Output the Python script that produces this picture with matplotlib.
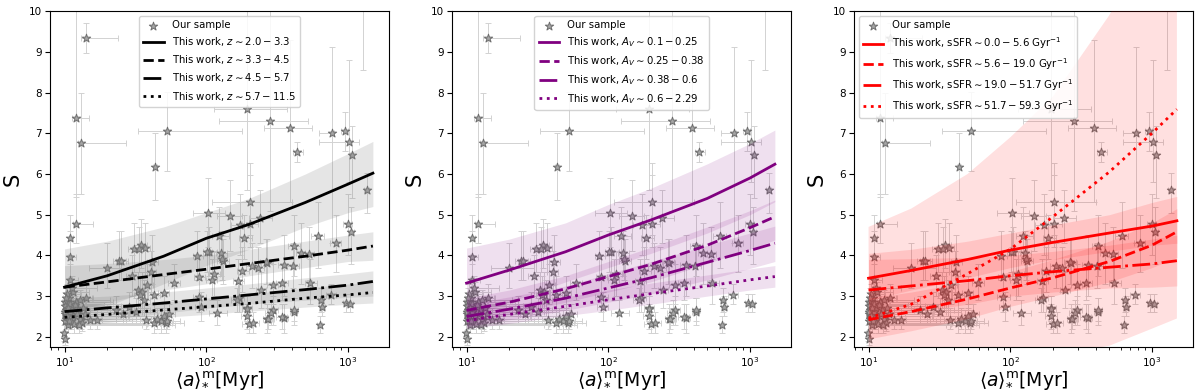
import matplotlib
matplotlib.use('Agg')
import matplotlib.pyplot as plt
import numpy as np

# ---- sample points (same in all three panels) ----
age = [14.1, 12.1, 13.0, 43.5, 53.2, 195, 282, 391, 437, 767, 957, 1021, 1062, 1355, 1271,
       12.0, 11.0, 11.0, 11.0, 103, 147, 204, 173, 204, 240, 185, 123, 611, 995, 1049, 822,
       417, 465, 533, 355, 541, 86.7, 105, 128, 132, 89.6, 109, 113, 180, 209, 232, 268, 168,
       243, 294, 270, 355, 413, 195, 195, 200, 215, 630, 646, 652, 759, 968, 1037, 120, 169,
       91.4, 89, 342, 294, 407, 262, 129, 164, 285, 342, 415, 273, 193, 102,
       20.0, 24.2, 25, 30.9, 34.4, 36.7, 33.5, 41.7, 30.1, 40.5, 38.4, 33, 35.4, 34, 36.3,
       42.8, 50.4, 59.2, 51.8, 47.6, 42.8, 50.4, 37.4, 28.4, 31.7, 22.9, 17.0, 14.1, 15.1,
       13, 55, 45, 53, 26,
       9.9, 10.0, 10.0, 10.1, 10.2, 10.0, 10.3, 10.1, 10.5, 10.8, 11.0, 11.2, 10.9, 11.4,
       11.1, 11.6, 12.0, 12.4, 12.2, 12.8, 13.2, 10.4, 11.5, 10.2, 10.6, 11.8, 10.0, 10.4,
       12.6, 14.0, 13.5, 11.3, 10.7, 12.9]
s_val = [9.33, 7.37, 6.76, 6.18, 7.05, 7.60, 7.31, 7.12, 6.54, 7.00, 7.06, 6.79, 6.47, 5.61, 10.6,
         4.77, 4.42, 3.97, 3.40, 5.05, 4.97, 5.32, 4.75, 4.77, 4.91, 4.42, 4.48, 4.48, 4.77, 4.58,
         4.30, 4.23, 4.05, 4.03, 3.77, 3.33, 3.99, 4.09, 4.07, 3.87, 3.48, 3.40, 3.55, 3.62, 3.73,
         3.69, 3.81, 3.37, 3.15, 2.66, 2.43, 2.46, 2.62, 2.70, 2.50, 2.32, 2.35, 2.30, 2.91, 2.74,
         3.03, 2.83, 2.81, 2.58, 2.95, 2.74, 2.99, 3.33, 3.28, 3.74, 3.85, 3.91, 2.91, 2.58, 2.48,
         2.66, 2.43, 2.68, 4.08,
         3.70, 3.86, 3.86, 4.16, 4.26, 4.18, 4.15, 3.83, 3.50, 3.60, 3.28, 3.15, 3.11, 3.03, 2.91,
         3.03, 3.07, 3.32, 2.34, 2.38, 2.34, 2.50, 2.42, 2.74, 2.62, 2.66, 2.42, 2.95, 2.42,
         2.42, 2.55, 2.45, 2.40, 2.55,
         2.09, 1.94, 2.85, 2.75, 2.65, 2.55, 2.45, 2.38, 2.30, 2.95, 2.80, 2.70, 2.60, 2.50,
         2.40, 2.32, 2.85, 2.65, 2.55, 2.45, 2.35, 3.05, 3.10, 2.95, 2.70, 2.78, 2.62, 2.52,
         2.30, 2.55, 2.70, 3.20, 2.40, 2.90]
age_lo = [13.0, 11.3, 12.5, 42, 33, 113, 123, 256, 410, 627, 900, 627, 1040, 1300, 1200,
          11.5, 10.8, 10.5, 10.6, 80, 120, 110, 150, 180, 200, 170, 110, 550, 930, 1000, 750,
          380, 430, 500, 320, 500, 80, 95, 118, 120, 82, 100, 103, 165, 190, 210, 245, 155,
          225, 270, 250, 330, 390, 180, 175, 180, 195, 600, 610, 620, 700, 920, 990, 105, 155,
          83, 80, 310, 270, 370, 240, 120, 150, 260, 310, 390, 250, 180, 95,
          15, 22, 23, 28, 31, 33, 30, 38, 27, 37, 35, 30, 32, 31, 33,
          39, 46, 54, 47, 43, 39, 46, 34, 26, 29, 21, 15.5, 13, 14,
          12, 50, 41, 48, 24,
          9.6, 9.7, 9.6, 9.7, 9.8, 9.6, 9.9, 9.7, 10.0, 10.3, 10.5, 10.7, 10.4, 10.9,
          10.6, 11.0, 11.4, 11.8, 11.6, 12.0, 12.5, 10.0, 11.0, 9.8, 10.1, 11.2, 9.6, 10.0,
          12.0, 13.2, 12.8, 10.8, 10.2, 12.2]
age_hi = [24, 15.0, 27, 45, 178, 371, 526, 562, 482, 800, 1000, 1203, 1085, 1400, 1340,
          16.0, 11.5, 12, 12.5, 135, 180, 402, 200, 230, 290, 210, 145, 680, 1060, 1100, 900,
          460, 500, 580, 400, 600, 95, 120, 140, 145, 98, 120, 125, 200, 230, 255, 295, 185,
          265, 320, 290, 380, 440, 210, 215, 220, 235, 660, 680, 690, 820, 1010, 1080, 140, 185,
          100, 100, 380, 320, 450, 290, 140, 180, 310, 370, 445, 300, 210, 110,
          30, 27, 28, 34, 38, 40, 37, 46, 33, 44, 42, 36, 39, 37, 40,
          47, 55, 65, 57, 52, 47, 55, 41, 31, 35, 25, 18.5, 15.5, 16.5,
          14, 60, 49, 58, 28,
          10.3, 10.3, 14, 25, 40, 18, 55, 30, 60, 16, 35, 20, 45, 28,
          65, 38, 22, 50, 32, 42, 70, 13, 15, 12, 26, 19, 33, 48,
          35, 24, 30, 17, 27, 21]
s_lo = [8.98, 5.44, 5.52, 5.36, 6.08, 5.6, 5.1, 5.3, 6.29, 4.3, 6.57, 5.81, 5.4, 5.05, 8.55,
        4.3, 3.8, 3.4, 2.9, 4.2, 4.1, 4.5, 4.0, 4.2, 4.3, 3.9, 3.9, 3.7, 4.0, 3.8,
        3.6, 3.5, 3.3, 3.4, 3.0, 2.8, 3.4, 3.5, 3.5, 3.3, 3.0, 2.9, 3.0, 3.1, 3.2,
        3.1, 3.3, 2.9, 2.7, 2.3, 2.1, 2.1, 2.3, 2.4, 2.2, 2.1, 2.1, 2.1, 2.6, 2.5,
        2.8, 2.6, 2.6, 2.3, 2.6, 2.4, 2.6, 2.9, 2.8, 3.2, 3.3, 3.4, 2.6, 2.3, 2.2,
        2.4, 2.2, 2.4, 3.6,
        3.2, 3.4, 3.4, 3.6, 3.7, 3.6, 3.6, 3.3, 3.0, 3.1, 2.8, 2.7, 2.7, 2.6, 2.5,
        2.6, 2.7, 2.9, 2.1, 2.1, 2.1, 2.2, 2.2, 2.4, 2.3, 2.3, 2.2, 2.6, 2.2,
        2.2, 2.3, 2.2, 2.2, 2.3,
        1.9, 1.8, 2.6, 2.5, 2.4, 2.3, 2.2, 2.15, 2.1, 2.7, 2.55, 2.45, 2.35, 2.25,
        2.2, 2.1, 2.6, 2.4, 2.3, 2.2, 2.15, 2.8, 2.85, 2.7, 2.45, 2.55, 2.4, 2.3,
        2.1, 2.3, 2.45, 2.9, 2.2, 2.65]
s_hi = [9.70, 10.5, 7.99, 7.01, 8.02, 10.5, 10.5, 9.29, 6.79, 9.12, 7.53, 8.80, 7.18, 6.03, 11.0,
        5.5, 5.0, 4.6, 4.0, 5.9, 5.85, 6.26, 5.5, 5.97, 5.6, 5.0, 5.2, 5.3, 5.5, 5.2,
        5.0, 5.0, 4.8, 4.7, 4.5, 3.9, 4.6, 4.7, 4.6, 4.4, 4.0, 3.9, 4.1, 4.2, 4.3,
        4.2, 4.4, 3.9, 3.6, 3.0, 2.8, 2.8, 2.95, 3.0, 2.8, 2.6, 2.6, 2.5, 3.2, 3.0,
        3.3, 3.05, 3.05, 2.9, 3.3, 3.1, 3.4, 3.8, 3.8, 4.3, 4.4, 4.5, 3.2, 2.9, 2.8,
        2.95, 2.7, 3.0, 4.6,
        4.3, 4.6, 4.6, 4.8, 4.9, 4.8, 4.7, 4.5, 4.0, 4.1, 3.8, 3.6, 3.6, 3.5, 3.4,
        3.5, 3.5, 3.8, 2.6, 2.65, 2.6, 2.8, 2.7, 3.1, 2.95, 3.0, 2.7, 3.3, 2.7,
        2.7, 2.8, 2.7, 2.65, 2.8,
        2.3, 2.1, 3.1, 3.0, 2.9, 2.8, 2.7, 2.6, 2.5, 3.2, 3.05, 2.95, 2.85, 2.75,
        2.6, 2.55, 3.1, 2.9, 2.8, 2.7, 2.55, 3.3, 3.35, 3.2, 2.95, 3.0, 2.85, 2.75,
        2.5, 2.8, 2.95, 3.5, 2.6, 3.15]

# ---- fit curves, at these ages ----
fit_age = [10, 20, 50, 100, 200, 500, 1000, 1500]

z_labels = [r'This work, $z\sim2.0-3.3$', r'This work, $z\sim3.3-4.5$',
            r'This work, $z\sim4.5-5.7$', r'This work, $z\sim5.7-11.5$']
z_fit = [[3.22, 3.50, 3.98, 4.42, 4.76, 5.30, 5.75, 6.02],
         [3.22, 3.35, 3.53, 3.66, 3.80, 3.98, 4.13, 4.23],
         [2.62, 2.71, 2.83, 2.93, 3.03, 3.16, 3.27, 3.36],
         [2.48, 2.55, 2.66, 2.74, 2.82, 2.95, 3.03, 3.09]]
z_lo = [[2.40, 2.75, 3.30, 3.75, 4.15, 4.70, 5.05, 5.20],
        [2.55, 2.85, 3.15, 3.30, 3.50, 3.70, 3.85, 3.88],
        [2.30, 2.42, 2.58, 2.70, 2.80, 2.90, 2.97, 3.00],
        [2.25, 2.35, 2.48, 2.55, 2.63, 2.73, 2.80, 2.83]]
z_hi = [[4.16, 4.35, 4.70, 5.05, 5.40, 6.00, 6.50, 6.80],
        [3.75, 3.80, 3.90, 4.00, 4.15, 4.35, 4.50, 4.58],
        [2.95, 3.00, 3.10, 3.20, 3.30, 3.45, 3.55, 3.62],
        [2.70, 2.76, 2.86, 2.95, 3.05, 3.20, 3.30, 3.35]]

av_labels = [r'This work, $A_V\sim0.1-0.25$', r'This work, $A_V\sim0.25-0.38$',
             r'This work, $A_V\sim0.38-0.6$', r'This work, $A_V\sim0.6-2.29$']
av_fit = [[3.32, 3.64, 4.09, 4.50, 4.87, 5.40, 5.90, 6.24],
          [2.65, 2.85, 3.18, 3.48, 3.78, 4.25, 4.68, 4.95],
          [2.50, 2.68, 2.95, 3.20, 3.45, 3.83, 4.12, 4.30],
          [2.40, 2.55, 2.75, 2.91, 3.06, 3.25, 3.40, 3.48]]
av_lo = [[2.45, 2.85, 3.35, 3.70, 4.05, 4.55, 5.00, 5.32],
         [2.35, 2.55, 2.85, 3.10, 3.35, 3.80, 4.15, 4.38],
         [2.25, 2.42, 2.65, 2.85, 3.05, 3.40, 3.68, 3.85],
         [2.20, 2.33, 2.52, 2.65, 2.80, 3.00, 3.15, 3.22]]
av_hi = [[4.18, 4.40, 4.80, 5.25, 5.65, 6.25, 6.75, 7.08],
         [2.95, 3.15, 3.50, 3.85, 4.20, 4.70, 5.10, 5.36],
         [2.80, 2.98, 3.25, 3.55, 3.85, 4.25, 4.55, 4.72],
         [2.65, 2.78, 2.98, 3.15, 3.32, 3.52, 3.67, 3.75]]

ssfr_labels = [r'This work, sSFR$\sim0.0-5.6$ Gyr$^{-1}$', r'This work, sSFR$\sim5.6-19.0$ Gyr$^{-1}$',
               r'This work, sSFR$\sim19.0-51.7$ Gyr$^{-1}$', r'This work, sSFR$\sim51.7-59.3$ Gyr$^{-1}$']
ssfr_fit = [[3.44, 3.63, 3.90, 4.13, 4.32, 4.55, 4.72, 4.85],
            [2.42, 2.62, 2.93, 3.20, 3.45, 3.85, 4.25, 4.58],
            [3.15, 3.25, 3.38, 3.50, 3.60, 3.71, 3.79, 3.87],
            [2.46, 2.80, 3.55, 4.15, 4.95, 6.05, 7.00, 7.59]]
ssfr_lo = [[2.90, 3.15, 3.45, 3.70, 3.90, 4.10, 4.25, 4.30],
           [1.95, 2.15, 2.45, 2.75, 3.00, 3.35, 3.70, 3.95],
           [2.45, 2.60, 2.80, 3.00, 3.10, 3.20, 3.22, 3.25],
           [1.60, 1.55, 1.50, 1.50, 1.55, 1.78, 2.20, 2.45]]
ssfr_hi = [[4.05, 4.15, 4.35, 4.55, 4.75, 5.00, 5.30, 5.45],
           [2.95, 3.10, 3.35, 3.60, 3.90, 4.35, 4.80, 5.15],
           [3.90, 3.92, 3.95, 4.00, 4.10, 4.25, 4.40, 4.50],
           [4.70, 5.15, 6.00, 6.90, 7.90, 9.90, 11.8, 13.0]]

styles = ['-', '--', '-.', ':']

fig = plt.figure(figsize=(12, 3.91), dpi=100)
lefts = [0.0417, 0.3767, 0.7117]
panels = [
    (z_fit, z_lo, z_hi, z_labels, 'black', 'gray', 0.2, 'upper center'),
    (av_fit, av_lo, av_hi, av_labels, 'purple', 'purple', 0.12, 'upper center'),
    (ssfr_fit, ssfr_lo, ssfr_hi, ssfr_labels, 'red', 'red', 0.12, 'upper left'),
]

x = np.array(age)
y = np.array(s_val)
xerr = [x - np.array(age_lo), np.array(age_hi) - x]
yerr = [y - np.array(s_lo), np.array(s_hi) - y]

for left, (fits, los, his, labels, lc, bc, balpha, loc) in zip(lefts, panels):
    ax = fig.add_axes([left, 0.1125, 0.2825, 0.859])
    ax.errorbar(x, y, xerr=xerr, yerr=yerr, fmt='none', ecolor='#d2d2d2',
                elinewidth=0.7, capsize=2.5, capthick=0.7, zorder=1)
    ax.scatter(x, y, marker='*', s=40, facecolor='#a6a6a6', edgecolor='#6e6e6e',
               linewidth=0.7, zorder=2, label='Our sample')
    for fit, lo, hi, lab, ls in zip(fits, los, his, labels, styles):
        ax.fill_between(fit_age, lo, hi, color=bc, alpha=balpha, linewidth=0, zorder=3)
        ax.plot(fit_age, fit, ls, color=lc, lw=2, label=lab, zorder=4)
    ax.set_xscale('log')
    ax.set_xlim(7.9, 1950)
    ax.set_ylim(1.75, 10)
    ax.set_yticks(range(2, 11))
    ax.tick_params(labelsize=7.5, pad=2.5)
    ax.set_xlabel(r'$\langle a\rangle^{\rm m}_{*}$[Myr]', fontsize=13.5, labelpad=0)
    ax.set_ylabel('S', fontsize=15)
    ax.legend(loc=loc, fontsize=7.3, framealpha=0.85)

fig.savefig('out.png', dpi=100)
